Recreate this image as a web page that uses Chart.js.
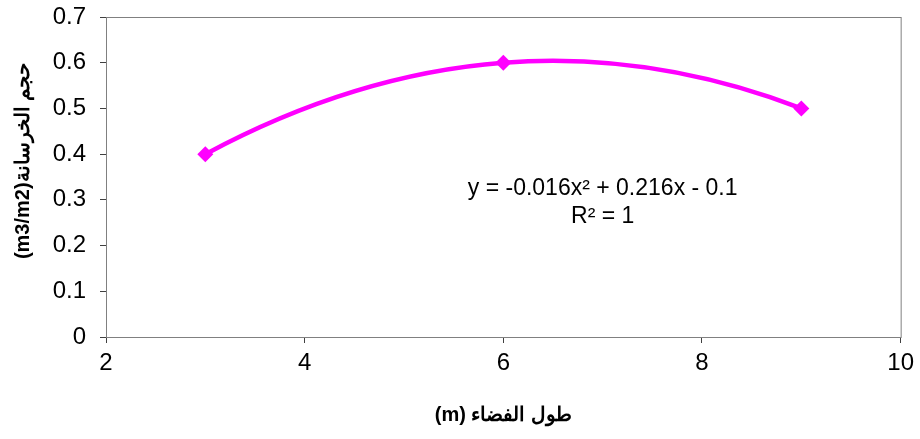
<!DOCTYPE html>
<html>
<head>
<meta charset="utf-8">
<script src="https://cdn.jsdelivr.net/npm/chart.js@4/dist/chart.umd.min.js"></script>
<style>
  html, body { margin: 0; padding: 0; background: #fff; }
  #wrap { width: 920px; height: 439px; }
</style>
</head>
<body>
<div id="wrap"><canvas id="chart" width="920" height="439"></canvas></div>
<script>
// data
const spanLength = [3, 6, 9]
const concreteVolume = [0.4, 0.6, 0.5]
const xTicks = [2, 4, 6, 8, 10]
const yTicks = [0, 0.1, 0.2, 0.3, 0.4, 0.5, 0.6, 0.7]
const trendLines = ["y = -0.016x\u00B2 + 0.216x - 0.1", "R\u00B2 = 1"]
const yTitle = "(m3/m2)حجم الخرسانة"

const MAGENTA = "#FF00FF"
const FONT = "'Liberation Sans', Arial, sans-serif"

// trendline label, placed in data units
const labelAt = { x: 7.0, y: 0.325 }

// Excel-like smoothing: each point's tangent comes from the parabola
// through it and its neighbours, so the 3 points give one clean arc
const smoothPlugin = {
  id: "smooth",
  beforeDatasetDraw(chart, args) {
    const pts = args.meta.data
    const n = pts.length
    if (n < 3) return
    for (let i = 0; i < n; i++) {
      const j = Math.min(Math.max(i - 1, 0), n - 3)
      const a = pts[j], b = pts[j + 1], c = pts[j + 2]
      const x = pts[i].x
      const slope =
        a.y * (2 * x - b.x - c.x) / ((a.x - b.x) * (a.x - c.x)) +
        b.y * (2 * x - a.x - c.x) / ((b.x - a.x) * (b.x - c.x)) +
        c.y * (2 * x - a.x - b.x) / ((c.x - a.x) * (c.x - b.x))
      const p = pts[i]
      const dPrev = i > 0 ? (p.x - pts[i - 1].x) / 3 : 0
      const dNext = i < n - 1 ? (pts[i + 1].x - p.x) / 3 : 0
      p.cp1x = p.x - dPrev
      p.cp1y = p.y - slope * dPrev
      p.cp2x = p.x + dNext
      p.cp2y = p.y + slope * dNext
    }
    if (args.meta.dataset) {
      args.meta.dataset._pointsUpdated = true
      args.meta.dataset._path = undefined
    }
  },
}

const framePlugin = {
  id: "frame",
  afterDraw(chart) {
    const { ctx, chartArea: a, scales } = chart
    ctx.save()
    ctx.strokeStyle = "#808080"
    ctx.lineWidth = 1
    ctx.strokeRect(a.left + 0.5, a.top + 0.5, a.right - a.left, a.bottom - a.top)
    ctx.fillStyle = "#000"
    ctx.font = "23px " + FONT
    ctx.textAlign = "center"
    ctx.textBaseline = "middle"
    const cx = scales.x.getPixelForValue(labelAt.x)
    const cy = scales.y.getPixelForValue(labelAt.y)
    ctx.fillText(trendLines[0], cx, cy)
    ctx.fillText(trendLines[1], cx, cy + 28)
    // y title, sitting a little above the middle as in Excel
    ctx.translate(23, 161)
    ctx.rotate(-Math.PI / 2)
    ctx.font = "bold 20px " + FONT
    ctx.fillText(yTitle, 0, 0)
    ctx.restore()
  },
}

new Chart(document.getElementById("chart"), {
  type: "scatter",
  data: {
    datasets: [
      {
        data: spanLength.map((x, i) => ({ x, y: concreteVolume[i] })),
        showLine: true,
        tension: 0.4,
        borderColor: MAGENTA,
        borderWidth: 4.5,
        backgroundColor: MAGENTA,
        pointStyle: "rectRot",
        pointRadius: 8,
        pointBorderWidth: 0,
      },
    ],
  },
  options: {
    responsive: false,
    animation: false,
    layout: { padding: { top: 17, right: 16, left: 8, bottom: 8 } },
    plugins: { legend: { display: false }, tooltip: { enabled: false } },
    scales: {
      x: {
        type: "linear",
        min: 2,
        max: 10,
        afterBuildTicks: (s) => { s.ticks = xTicks.map((v) => ({ value: v })) },
        ticks: { color: "#000", font: { family: FONT, size: 24 }, padding: 6, maxRotation: 0 },
        grid: { drawOnChartArea: false, tickLength: 6, color: "#404040" },
        border: { color: "#404040", width: 1 },
        title: {
          display: true,
          text: "(m) طول الفضاء",
          color: "#000",
          font: { family: FONT, size: 20, weight: "bold" },
          padding: { top: 14 },
        },
        afterFit: (s) => { s.height = 94 },
      },
      y: {
        min: 0,
        max: 0.7,
        afterBuildTicks: (s) => { s.ticks = yTicks.map((v) => ({ value: v })) },
        ticks: { color: "#000", font: { family: FONT, size: 24 }, padding: 14 },
        grid: { drawOnChartArea: false, tickLength: 6, color: "#404040" },
        border: { color: "#404040", width: 1 },
        afterFit: (s) => {
          s.width = 98
          s.paddingTop = 0
          s.paddingBottom = 0
        },
      },
    },
  },
  plugins: [smoothPlugin, framePlugin],
})
</script>
</body>
</html>
